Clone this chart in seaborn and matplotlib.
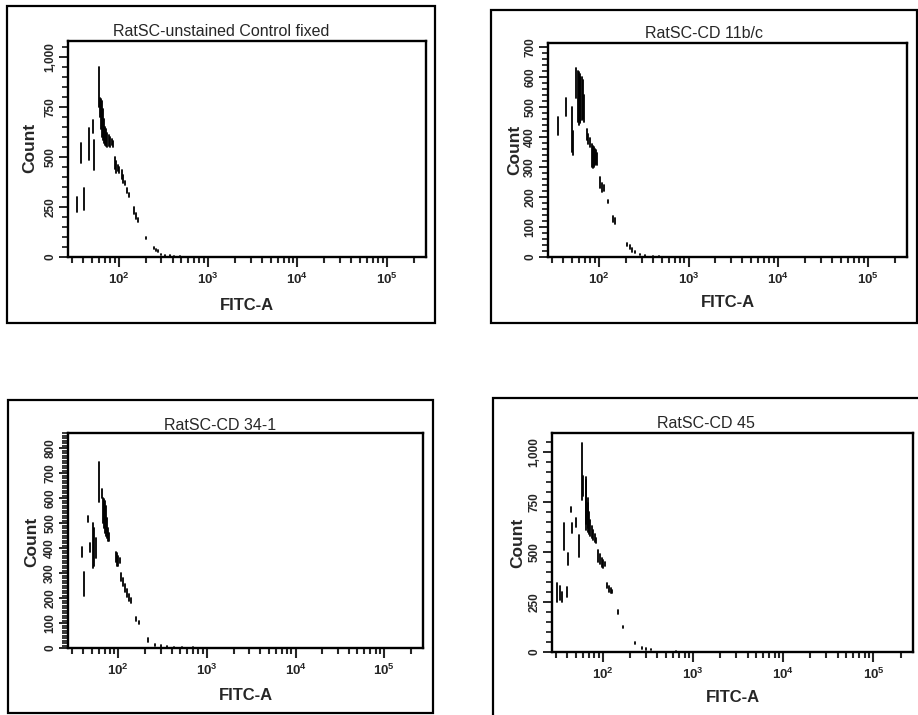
import numpy as np
import pandas as pd
import seaborn as sns
import matplotlib.pyplot as plt
from matplotlib import patches
from matplotlib.ticker import MultipleLocator, LogLocator, NullFormatter, StrMethodFormatter

sns.set_style("ticks")
plt.rcParams['font.family'] = ['Liberation Sans', 'DejaVu Sans']
plt.rcParams['font.weight'] = 'bold'
plt.rcParams['mathtext.fontset'] = 'custom'
plt.rcParams['mathtext.bf'] = 'Liberation Sans:bold'
plt.rcParams['mathtext.rm'] = 'Liberation Sans:bold'

# Titles and axis texts
titles = ["RatSC-unstained Control fixed", "RatSC-CD 11b/c", "RatSC-CD 34-1", "RatSC-CD 45"]
x_title = "FITC-A"
y_title = "Count"
decades = [1e2, 1e3, 1e4, 1e5]
decade_labels = [r"$\mathbf{10^{2}}$", r"$\mathbf{10^{3}}$", r"$\mathbf{10^{4}}$", r"$\mathbf{10^{5}}$"]

# Histogram strokes: FITC-A channel, lowest and highest count of the stroke
unstained_fitc = [34, 38, 41, 46, 52, 53, 60, 62, 63, 65, 66, 68, 70, 72, 74, 77, 80, 83, 86, 90, 93, 97,
                  101, 108, 112, 116, 123, 129, 147, 157, 166, 200, 245, 262, 277, 300, 330, 370, 420, 480, 600, 800]
unstained_low = [225, 470, 235, 485, 620, 435, 750, 700, 640, 600, 585, 570, 560, 555, 550, 555, 550, 560, 550,
                 440, 420, 430, 420, 390, 370, 360, 320, 300, 215, 190, 175, 90, 40, 30, 25, 8, 5, 3, 2, 0, 0, 0]
unstained_high = [300, 570, 345, 645, 685, 585, 950, 795, 790, 780, 740, 690, 650, 640, 620, 610, 600, 590, 580,
                  500, 480, 460, 450, 435, 410, 380, 345, 320, 250, 220, 195, 100, 50, 40, 35, 15, 10, 8, 5, 3, 2, 1]

cd11_fitc = [35, 43, 50, 52, 56, 59, 60, 61, 62, 64, 66, 68, 73, 76, 79, 84, 86, 88, 90, 93, 96,
             102, 107, 113, 126, 145, 150, 206, 220, 235, 255, 290, 330, 400, 470]
cd11_low = [405, 470, 350, 340, 530, 450, 440, 445, 450, 455, 460, 450, 390, 375, 365, 300, 295, 300, 305, 310,
            305, 230, 215, 220, 180, 115, 110, 35, 25, 18, 12, 5, 3, 0, 0]
cd11_high = [465, 530, 500, 420, 630, 620, 615, 610, 600, 600, 590, 540, 425, 410, 395, 375, 370, 365, 360, 355,
             345, 265, 245, 240, 190, 135, 130, 47, 40, 30, 20, 10, 6, 4, 2]

cd34_fitc = [39, 41, 46, 48, 52, 53, 56, 61, 65, 67, 68, 70, 72, 74, 77, 79, 95, 97, 100, 103, 108, 113,
             119, 126, 133, 140, 160, 173, 218, 260, 300, 350, 420, 520, 700, 900]
cd34_low = [365, 210, 505, 385, 320, 330, 360, 585, 600, 500, 480, 460, 450, 440, 430, 430, 345, 330, 330, 340,
            270, 250, 225, 205, 190, 180, 110, 95, 25, 10, 5, 3, 2, 0, 0, 0]
cd34_high = [405, 305, 530, 420, 500, 480, 440, 745, 635, 600, 595, 590, 570, 520, 480, 460, 385, 380, 370, 360,
             300, 280, 255, 235, 215, 200, 125, 110, 40, 18, 12, 10, 6, 4, 3, 2]

cd45_fitc = [31, 33, 35, 37, 40, 41, 44, 45, 50, 54, 58, 59, 64, 65, 67, 68, 70, 72, 75, 78, 81, 84, 88,
             92, 96, 100, 105, 110, 116, 122, 126, 147, 167, 227, 270, 300, 340, 400, 500, 650, 900]
cd45_low = [250, 260, 250, 510, 275, 435, 700, 595, 625, 475, 760, 780, 610, 640, 620, 600, 590, 580, 570, 560,
            550, 545, 450, 440, 425, 420, 430, 320, 300, 295, 295, 190, 120, 40, 15, 12, 10, 8, 3, 0, 0]
cd45_high = [345, 330, 300, 645, 325, 495, 725, 645, 670, 585, 1045, 880, 875, 860, 770, 745, 700, 660, 630,
             610, 590, 570, 510, 490, 470, 460, 450, 345, 330, 320, 310, 210, 130, 50, 25, 20, 15, 12, 6, 3, 2]

y_limits = [1080, 713, 860, 1095]
y_major = [250, 100, 100, 250]
y_minor = [50, 20, 10, 50]


def strokes(fitc, low, high):
    n = len(fitc)
    return pd.DataFrame({'fitc': fitc + fitc, 'count': low + high, 'stroke': list(range(n)) * 2})


frames = [strokes(unstained_fitc, unstained_low, unstained_high),
          strokes(cd11_fitc, cd11_low, cd11_high),
          strokes(cd34_fitc, cd34_low, cd34_high),
          strokes(cd45_fitc, cd45_low, cd45_high)]

# Layout in pixels of the 918x715 picture
W, H = 918, 715
axes_px = [(68, 41, 426, 257), (548, 43, 907, 257), (68, 433, 423, 648), (552, 433, 913, 652)]
box_px = [(7, 6, 435, 323), (491, 10, 917, 323), (8, 400, 433, 713), (493, 398, 930, 725)]
title_y = [31, 33, 425, 423]
xlabel_y = [305, 303, 695, 698]
ylabel_xy = [(30, 148), (515, 150), (32, 542), (518, 543)]


def fx(px):
    return px / W


def fy(py):
    return 1 - py / H


fig = plt.figure(figsize=(9.18, 7.15), dpi=100)

for i, df in enumerate(frames):
    x0, y0, x1, y1 = axes_px[i]
    ax = fig.add_axes([fx(x0), fy(y1), (x1 - x0) / W, (y1 - y0) / H])
    ax.set_xscale('log')

    sns.lineplot(data=df, x='fitc', y='count', units='stroke', estimator=None,
                 color='black', lw=1.3, legend=False, ax=ax)

    ax.set_xlim(27, 275000)
    ax.set_ylim(0, y_limits[i])

    # x axis: log decades
    ax.set_xticks(decades, decade_labels)
    ax.xaxis.set_minor_locator(LogLocator(base=10, subs=np.arange(2, 10)))
    ax.xaxis.set_minor_formatter(NullFormatter())
    ax.tick_params(axis='x', which='major', direction='out', length=7.5, width=1.5, labelsize=9.5, pad=3)
    ax.tick_params(axis='x', which='minor', direction='out', length=4.5, width=1.5)

    # y axis: counts, labels turned
    ax.yaxis.set_major_locator(MultipleLocator(y_major[i]))
    ax.yaxis.set_minor_locator(MultipleLocator(y_minor[i]))
    ax.yaxis.set_major_formatter(StrMethodFormatter('{x:,.0f}'))
    ax.tick_params(axis='y', which='major', direction='out', length=6.5, width=1.4, labelsize=8.5, pad=2,
                   labelrotation=90)
    ax.tick_params(axis='y', which='minor', direction='out', length=4, width=1.3)
    for lbl in ax.get_yticklabels():
        lbl.set_va('center')

    for spine in ax.spines.values():
        spine.set_lw(1.7)
        spine.set_color('black')

    # axis titles
    ax.set_xlabel(x_title, fontsize=12, fontweight='bold', va='center')
    ax.xaxis.set_label_coords(fx((x0 + x1) / 2), fy(xlabel_y[i]), transform=fig.transFigure)
    ax.set_ylabel(y_title, fontsize=12.5, fontweight='bold', ha='center', va='center')
    ax.yaxis.set_label_coords(fx(ylabel_xy[i][0]), fy(ylabel_xy[i][1]), transform=fig.transFigure)

    # panel frame and title
    bx0, by0, bx1, by1 = box_px[i]
    fig.add_artist(patches.Rectangle((fx(bx0), fy(by1)), (bx1 - bx0) / W, (by1 - by0) / H,
                                     transform=fig.transFigure, fill=False, ec='black', lw=1.6))
    fig.text(fx((bx0 + min(bx1, W)) / 2), fy(title_y[i]), titles[i], fontsize=11.5,
             fontweight='normal', ha='center', va='center')

fig.savefig('out.png', dpi=100)
